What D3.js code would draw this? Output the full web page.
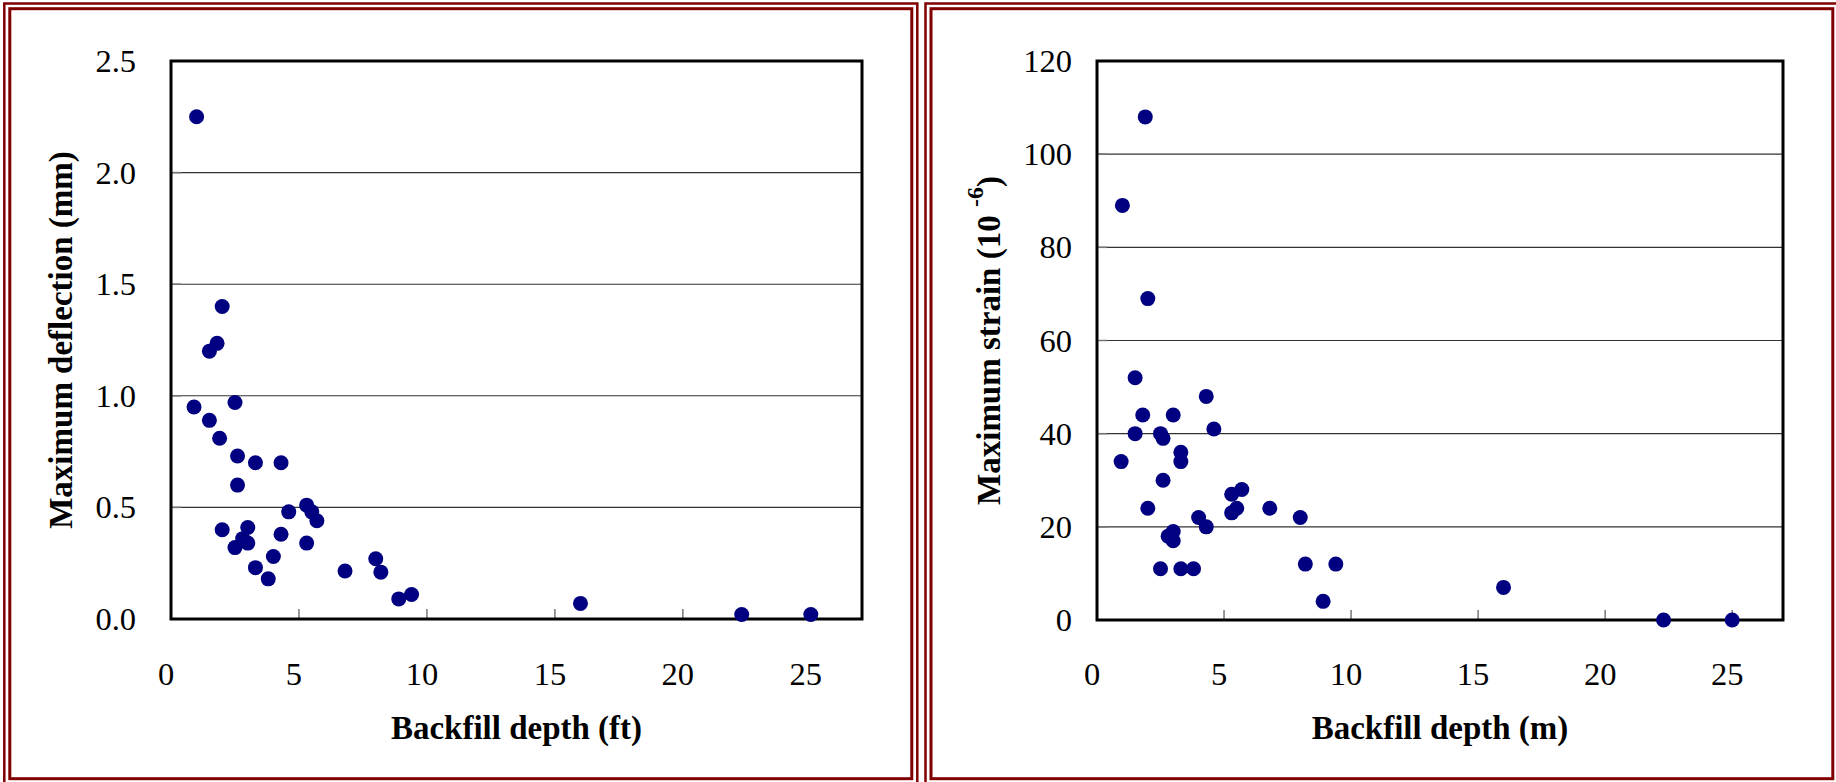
<!DOCTYPE html>
<html>
<head>
<meta charset="utf-8">
<script src="https://cdn.jsdelivr.net/npm/d3@7"></script>
<style>
html,body{margin:0;padding:0;background:#fff;}
svg{display:block;}
text{font-family:"Liberation Serif","Times New Roman",serif;fill:#000;}
</style>
</head>
<body>
<svg id="chart" width="1836" height="782"></svg>
<script>
// ---- Data ----
const depthFt = [1.0, 2.0, 1.8, 1.5, 0.9, 2.5, 1.5, 1.9, 2.6, 3.3, 4.3, 2.6, 4.6, 5.3, 5.5, 5.7, 2.0, 3.0, 2.8, 3.0, 2.5, 4.3, 5.3, 4.0, 3.3, 3.8, 6.8, 8.0, 8.2, 8.9, 9.4, 16.0, 22.3, 25.0];
const deflection = [2.25, 1.40, 1.235, 1.20, 0.95, 0.97, 0.89, 0.81, 0.73, 0.70, 0.70, 0.60, 0.48, 0.51, 0.48, 0.44, 0.40, 0.41, 0.36, 0.34, 0.32, 0.38, 0.34, 0.28, 0.23, 0.18, 0.215, 0.27, 0.21, 0.09, 0.11, 0.07, 0.02, 0.02];

const depthM = [1.9, 1.0, 2.0, 1.5, 4.3, 1.8, 3.0, 4.6, 1.5, 2.5, 2.6, 3.3, 3.3, 0.95, 2.6, 5.7, 5.3, 5.5, 5.3, 2.0, 6.8, 8.0, 4.0, 4.3, 3.0, 2.8, 3.0, 2.5, 3.3, 3.8, 8.2, 9.4, 8.9, 16.0, 22.3, 25.0];
const strain = [108, 89, 69, 52, 48, 44, 44, 41, 40, 40, 39, 36, 34, 34, 30, 28, 27, 24, 23, 24, 24, 22, 22, 20, 19, 18, 17, 11, 11, 11, 12, 12, 4, 7, 0, 0];

const xTicks = [0, 5, 10, 15, 20, 25];
const deflTicks = [0, 0.5, 1.0, 1.5, 2.0, 2.5];
const strainTicks = [0, 20, 40, 60, 80, 100, 120];

const svg = d3.select("#chart");
const frameColor = "#800000";

// ---- Frames ----
function frame(x0, x1) {
  svg.append("rect").attr("x", x0).attr("y", 3.5).attr("width", x1 - x0).attr("height", 782)
    .attr("fill", "none").attr("stroke", frameColor).attr("stroke-width", 2.5);
  svg.append("rect").attr("x", x0 + 5.5).attr("y", 8.7).attr("width", x1 - x0 - 11).attr("height", 770)
    .attr("fill", "none").attr("stroke", frameColor).attr("stroke-width", 3);
}
frame(4.3, 917.3);
frame(925.5, 1838.3);

function panel(opts) {
  const {xs, ys, xRange, yRange, xDomain, yDomain, yTicks, yFmt, yLabelX, xTitle} = opts;
  const x = d3.scaleLinear().domain(xDomain).range(xRange);
  const y = d3.scaleLinear().domain(yDomain).range(yRange);
  const g = svg.append("g");
  const [X0, X1] = xRange;
  const [Y0, Y1] = yRange;

  g.append("g").selectAll("line").data(yTicks.filter(t => t !== yDomain[0] && t !== yDomain[1]))
    .join("line")
    .attr("x1", X0).attr("x2", X1)
    .attr("y1", d => y(d)).attr("y2", d => y(d))
    .attr("stroke", "#333").attr("stroke-width", 1.1);

  g.append("g").selectAll("line").data(yTicks.filter(t => t !== yDomain[0]))
    .join("line")
    .attr("x1", X0).attr("x2", X0 + 10)
    .attr("y1", d => y(d)).attr("y2", d => y(d))
    .attr("stroke", "#777").attr("stroke-width", 1.5);

  g.append("g").selectAll("line").data(xTicks.filter(t => t !== 0))
    .join("line")
    .attr("x1", d => x(d)).attr("x2", d => x(d))
    .attr("y1", Y0).attr("y2", Y0 - 10)
    .attr("stroke", "#777").attr("stroke-width", 1.5);

  g.append("rect").attr("x", X0).attr("y", Y1).attr("width", X1 - X0).attr("height", Y0 - Y1)
    .attr("fill", "none").attr("stroke", "#000").attr("stroke-width", 3);

  g.append("g").selectAll("text").data(yTicks).join("text")
    .attr("x", yLabelX).attr("y", d => y(d)).attr("dy", "0.34em")
    .attr("text-anchor", "end").attr("font-size", 32.5)
    .text(d => yFmt(d));

  g.append("g").selectAll("text").data(xTicks).join("text")
    .attr("x", d => x(d) - 5).attr("y", 685)
    .attr("text-anchor", "middle").attr("font-size", 32.5)
    .text(d => d);

  g.append("text").attr("x", (X0 + X1) / 2).attr("y", 739)
    .attr("text-anchor", "middle").attr("font-size", 33).attr("font-weight", "bold")
    .text(xTitle);

  g.append("g").selectAll("circle").data(xs.map((v, i) => [v, ys[i]])).join("circle")
    .attr("cx", d => x(d[0])).attr("cy", d => y(d[1])).attr("r", 7.5)
    .attr("fill", "#000080");

  return {x, y, g, cy: (Y0 + Y1) / 2};
}

const left = panel({
  xs: depthFt, ys: deflection,
  xRange: [171, 862], yRange: [619, 61],
  xDomain: [0, 27], yDomain: [0, 2.5],
  yTicks: deflTicks, yFmt: d3.format(".1f"), yLabelX: 136,
  xTitle: "Backfill depth (ft)"
});
svg.append("text")
  .attr("transform", `translate(72,${left.cy}) rotate(-90)`)
  .attr("text-anchor", "middle").attr("font-size", 33).attr("font-weight", "bold")
  .text("Maximum deflection (mm)");

const right = panel({
  xs: depthM, ys: strain,
  xRange: [1097, 1783], yRange: [620, 61],
  xDomain: [0, 27], yDomain: [0, 120],
  yTicks: strainTicks, yFmt: d => d, yLabelX: 1072,
  xTitle: "Backfill depth (m)"
});
const rt = svg.append("text")
  .attr("transform", `translate(1000,${right.cy}) rotate(-90)`)
  .attr("text-anchor", "middle").attr("font-size", 33).attr("font-weight", "bold");
rt.append("tspan").text("Maximum strain (10 ");
rt.append("tspan").attr("font-size", 24).attr("dy", -17).text("-6");
rt.append("tspan").attr("dy", 17).text(")");
</script>
</body>
</html>
